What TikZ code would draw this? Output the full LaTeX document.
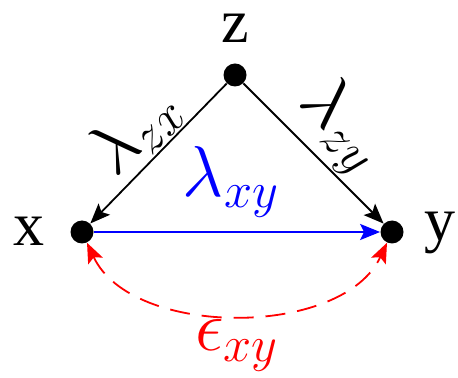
\RequirePackage{fix-cm}
\documentclass[tikz,border=0pt]{standalone}
\usepackage{amsmath,amssymb}
\usepackage{fontspec}
\newfontfamily\vtxfont{Liberation Serif}
\usepackage{xcolor}
\usetikzlibrary{arrows.meta,positioning}
\tikzset{
  pt/.style={circle,fill=black,inner sep=0pt,minimum size=11.5pt},
  lbl/.style={font=\fontsize{36}{40}\selectfont,inner sep=1pt},
  vlbl/.style={font=\vtxfont\fontsize{31}{36}\selectfont,inner sep=0pt,anchor=base},
  ar/.style={-{Stealth[length=10pt,width=8pt,inset=2pt]},line width=0.9pt}
}
\begin{document}
\begin{tikzpicture}[x=0.5pt,y=-0.5pt]
\useasboundingbox (0,0) rectangle (458,378);
% vertices
\node[pt] (z) at (235,75) {};
\node[pt] (x) at (82,232) {};
\node[pt] (y) at (392,232) {};
\node[vlbl] (zl) at (235,43) {z};
\node[vlbl] (xl) at (29,245) {x};
\node[vlbl] (yl) at (440,241) {y};
% edges
\draw[ar] (z) -- node[lbl,sloped,above=0pt] (lzx) {$\lambda_{zx}$} (x);
\draw[ar] (z) -- node[lbl,sloped,above=0pt] (lzy) {$\lambda_{zy}$} (y);
\draw[ar,blue,line width=1.1pt] (x) -- node[lbl,above=6pt,xshift=-3pt] (lxy) {$\lambda_{xy}$} (y);
\draw[ar,red,dash pattern=on 10pt off 6pt,{Stealth[length=10pt,width=8pt,inset=2pt]}-{Stealth[length=10pt,width=8pt,inset=2pt]}]
  (x) to[out=-65,in=-115,looseness=0.9] node[lbl,below=1pt] (exy) {$\epsilon_{xy}$} (y);
\end{tikzpicture}
\end{document}
